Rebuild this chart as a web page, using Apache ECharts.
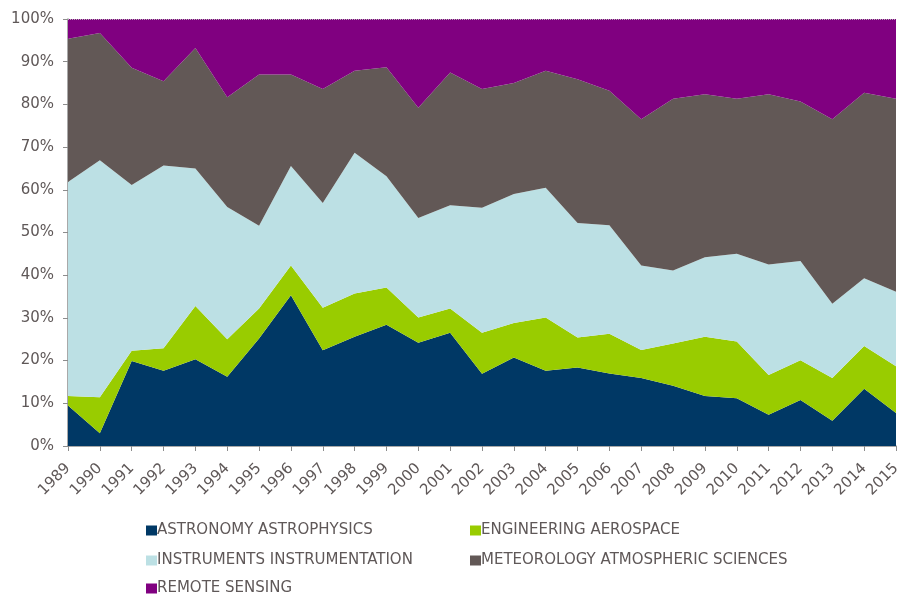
<!DOCTYPE html>
<html><head><meta charset="utf-8">
<script src="https://cdn.jsdelivr.net/npm/echarts@6/dist/echarts.min.js"></script>
<style>html,body{margin:0;padding:0;background:#fff}#c{width:897px;height:595px}</style>
</head><body><div id="c"></div>
<script>
var years = ['1989','1990','1991','1992','1993','1994','1995','1996','1997','1998','1999','2000','2001','2002','2003','2004','2005','2006','2007','2008','2009','2010','2011','2012','2013','2014','2015'];
var astronomy = [9.5,3.0,19.9,17.6,20.3,16.2,25.2,35.3,22.4,25.6,28.4,24.2,26.5,16.9,20.7,17.6,18.4,17.0,15.9,14.1,11.7,11.2,7.3,10.8,5.9,13.4,7.7];
var engineering = [2.2,8.4,2.4,5.3,12.5,8.8,7.0,7.0,10.0,10.1,8.7,5.9,5.7,9.6,8.1,12.5,7.0,9.3,6.6,9.9,13.9,13.3,9.3,9.3,10.0,10.0,11.0];
var instruments = [50.1,55.5,38.8,42.8,32.2,31.0,19.4,23.3,24.5,33.0,26.1,23.3,24.2,29.3,30.2,30.4,26.8,25.4,19.8,17.1,18.6,20.5,25.9,23.2,17.4,15.9,17.4];
var meteorology = [33.6,29.8,27.5,19.7,28.2,25.7,35.4,21.4,26.7,19.2,25.5,25.8,31.1,27.8,26.0,27.4,33.7,31.5,34.2,40.2,38.2,36.3,39.9,37.4,43.2,43.4,45.2];
var remote = [4.6,3.3,11.4,14.6,6.8,18.3,13.0,13.0,16.4,12.1,11.3,20.8,12.5,16.4,15.0,12.1,14.1,16.8,23.5,18.7,17.6,18.7,17.6,19.3,23.5,17.3,18.7];
var names = ['ASTRONOMY ASTROPHYSICS','ENGINEERING AEROSPACE','INSTRUMENTS INSTRUMENTATION','METEOROLOGY ATMOSPHERIC SCIENCES','REMOTE SENSING'];
var colors = ['#003865','#99CC00','#BCE0E4','#625856','#800080'];
var values = [astronomy, engineering, instruments, meteorology, remote];

var chart = echarts.init(document.getElementById('c'));
var font = 'DejaVu Sans';
var txt = '#5f5858';
var legendPos = [[146,523],[470,523],[146,553],[470,553],[146,581]];
var legends = names.map(function(n,i){
  return {data:[n], left:legendPos[i][0], top:legendPos[i][1], padding:0, itemWidth:11, itemHeight:10, itemGap:0,
    icon:'rect', textStyle:{color:txt, fontSize:15, fontFamily:font, padding:[0,0,0,-5]}, selectedMode:false};
});
chart.setOption({
  animation:false,
  color: colors,
  grid:{left:68, right:1, top:19, bottom:149, containLabel:false, outerBoundsMode:'none'},
  legend: legends,
  xAxis:{type:'category', data:years, boundaryGap:false,
    axisLine:{lineStyle:{color:'#8c8c8c', width:1.5}},
    axisTick:{show:true, length:5, lineStyle:{color:'#8c8c8c'}},
    axisLabel:{rotate:45, color:txt, fontSize:15, fontFamily:font, margin:20, interval:0}},
  yAxis:{type:'value', min:0, max:100, interval:10,
    axisLine:{show:true, lineStyle:{color:'#8c8c8c', width:1.5}},
    axisTick:{show:true, length:5, lineStyle:{color:'#8c8c8c'}},
    splitLine:{show:false},
    axisLabel:{formatter:'{value}%', color:txt, fontSize:15, fontFamily:font, margin:14}},
  series: values.map(function(v,i){
    var s = {name:names[i], type:'line', stack:'total', data:v, showSymbol:false, symbol:'none',
      lineStyle:{width:0}, areaStyle:{color:colors[i], opacity:1}, itemStyle:{color:colors[i]}};
    if (i === values.length - 1) {
      s.markLine = {silent:true, symbol:'none', label:{show:false},
        lineStyle:{type:'dotted', color:'#b8b0b8', width:1}, data:[{yAxis:100}]};
    }
    return s;
  })
});
</script></body></html>
